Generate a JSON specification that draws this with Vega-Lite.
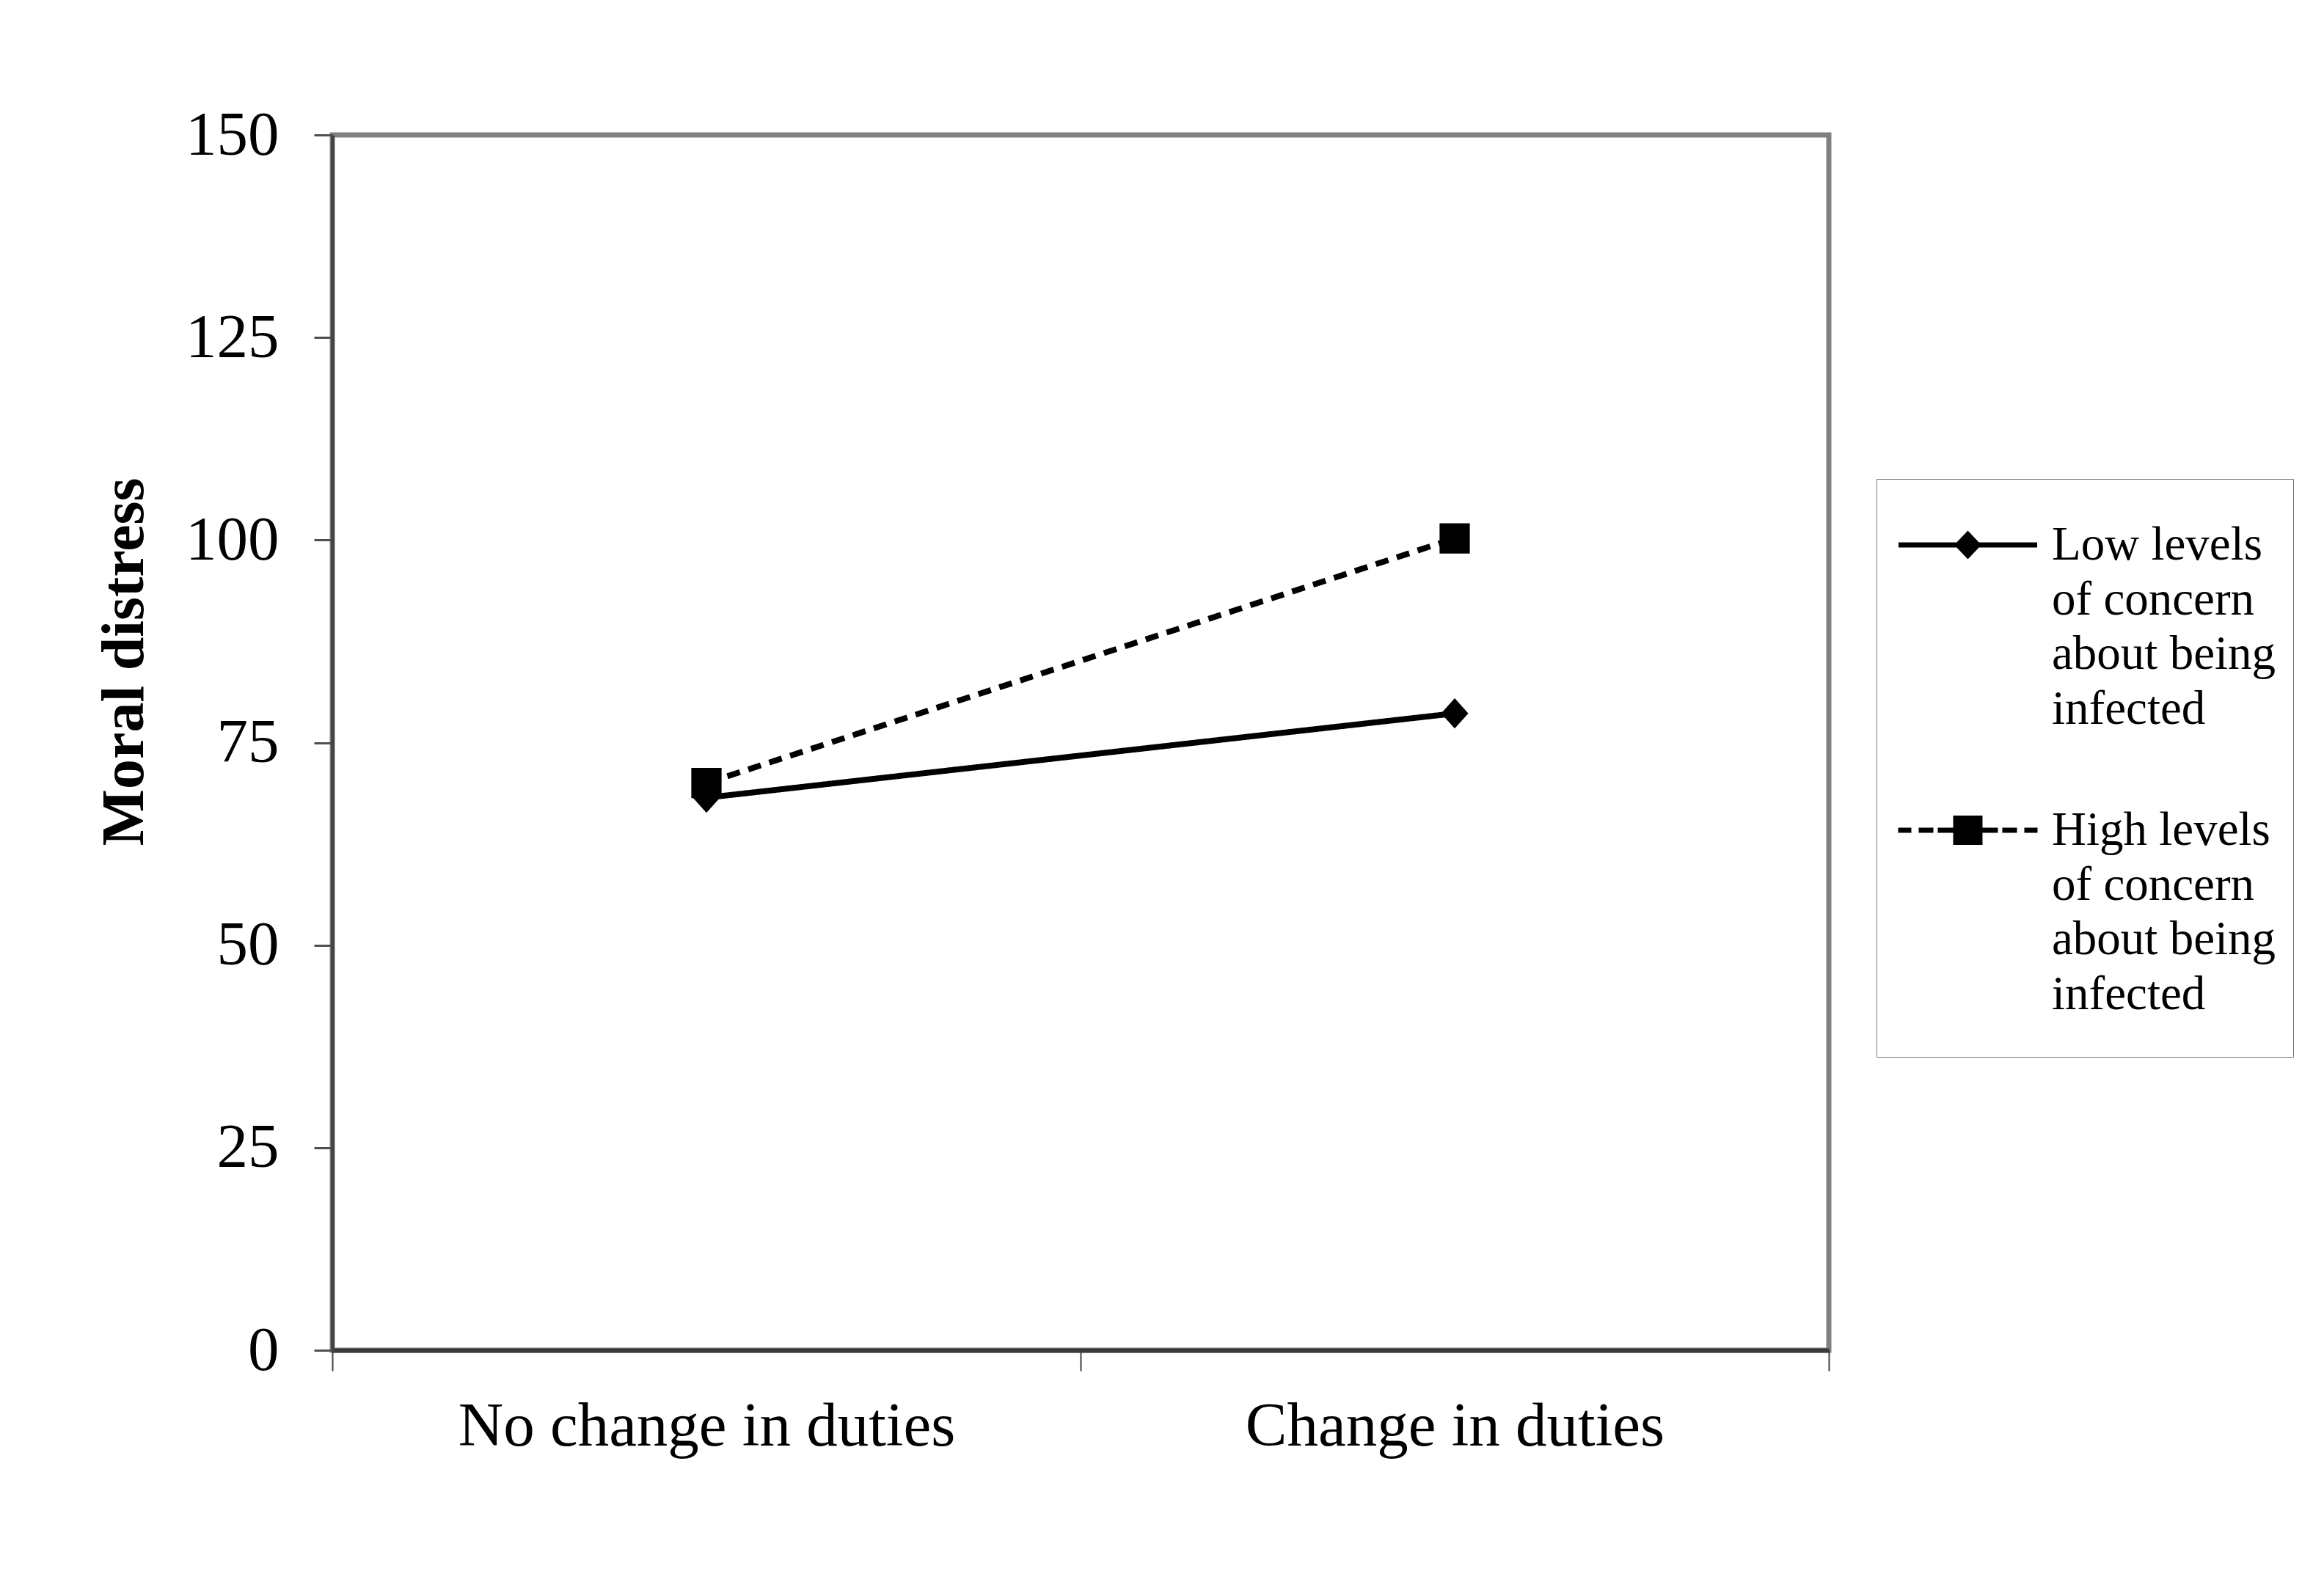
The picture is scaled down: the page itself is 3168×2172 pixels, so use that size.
{
  "$schema": "https://vega.github.io/schema/vega-lite/v6.json",
  "width": 2040,
  "height": 1657,
  "autosize": {"type": "none"},
  "padding": {"left": 453, "top": 184, "right": 675, "bottom": 331},
  "background": "white",
  "config": {
    "font": "Liberation Serif",
    "view": {"stroke": "#808080", "strokeWidth": 7},
    "style": {"guide-label": {"lineHeight": 74.5}}
  },
  "data": {
    "values": [
      {"duties": "No change in duties", "concern": "Low levels of concern about being infected", "distress": 68.2},
      {"duties": "Change in duties", "concern": "Low levels of concern about being infected", "distress": 78.6},
      {"duties": "No change in duties", "concern": "High levels of concern about being infected", "distress": 70.0},
      {"duties": "Change in duties", "concern": "High levels of concern about being infected", "distress": 100.2}
    ]
  },
  "encoding": {
    "x": {
      "field": "duties",
      "type": "nominal",
      "sort": ["No change in duties", "Change in duties"],
      "scale": {"type": "band", "paddingInner": 0, "paddingOuter": 0},
      "axis": {
        "title": null,
        "labelAngle": 0,
        "labelFontSize": 85,
        "labelColor": "black",
        "labelPadding": 34,
        "labelLimit": 2000,
        "tickBand": "extent",
        "tickSize": 28,
        "tickColor": "#404040",
        "tickWidth": 2,
        "domainColor": "#3a3a3a",
        "domainWidth": 6,
        "grid": false
      }
    },
    "y": {
      "field": "distress",
      "type": "quantitative",
      "scale": {"domain": [0, 150], "nice": false},
      "axis": {
        "title": "Moral distress",
        "values": [0, 25, 50, 75, 100, 125, 150],
        "grid": false,
        "labelFontSize": 85,
        "labelColor": "black",
        "labelPadding": 48,
        "tickSize": 25,
        "tickColor": "#505050",
        "tickWidth": 3,
        "domainColor": "#444444",
        "domainWidth": 5,
        "titleFontSize": 82,
        "titleFontWeight": "bold",
        "titleColor": "black",
        "titleX": -242,
        "titleY": 718,
        "titleAngle": 270,
        "titleAlign": "center",
        "titleBaseline": "bottom"
      }
    }
  },
  "layer": [
    {
      "mark": {"type": "line", "color": "black", "strokeWidth": 8},
      "encoding": {
        "strokeDash": {
          "field": "concern",
          "type": "nominal",
          "scale": {
            "domain": ["High levels of concern about being infected", "Low levels of concern about being infected"],
            "range": [[18, 12], [1, 0]]
          },
          "legend": null
        }
      }
    },
    {
      "transform": [{"filter": {"field": "concern", "equal": "Low levels of concern about being infected"}}],
      "mark": {"type": "point", "filled": true, "color": "black", "opacity": 1, "size": 1700, "shape": "M-0.9,0L0,-1L0.9,0L0,1Z"}
    },
    {
      "transform": [{"filter": {"field": "concern", "equal": "High levels of concern about being infected"}}],
      "mark": {"type": "point", "filled": true, "color": "black", "opacity": 1, "size": 1700, "shape": "square"}
    },
    {
      "transform": [{"filter": {"field": "distress", "lt": 0}}],
      "mark": {"type": "point", "filled": true, "color": "black", "stroke": "black", "strokeWidth": 7, "opacity": 1},
      "encoding": {
        "shape": {
          "field": "concern",
          "type": "nominal",
          "scale": {
            "domain": ["Low levels of concern about being infected", "High levels of concern about being infected"],
            "range": [
              "M-0.892,0.846H4.923V1.062H-0.892ZM1.446,0.954L2.015,0.354L2.584,0.954L2.015,1.554Z",
              "M2,9.323M-0.908,0.846H-0.354V1.062H-0.908ZM-0.047,0.846H0.569V1.062H-0.047ZM0.753,0.846H1.4V1.062H0.753ZM2.63,0.846H3.277V1.062H2.63ZM3.461,0.846H4.077V1.062H3.461ZM4.384,0.846H4.938V1.062H4.384ZM1.4,0.339H2.63V1.569H1.4Z"
            ]
          },
          "legend": {
            "title": null,
            "orient": "none",
            "legendX": 2105,
            "legendY": 469,
            "padding": 23,
            "strokeColor": "#777777",
            "fillColor": "white",
            "symbolSize": 4225,
            "symbolStrokeWidth": 7,
            "symbolStrokeColor": "black",
            "symbolFillColor": "black",
            "symbolOpacity": 1,
            "labelOffset": 144,
            "labelFontSize": 65,
            "labelBaseline": "top",
            "labelColor": "black",
            "labelLimit": 2000,
            "rowPadding": 65,
            "labelExpr": "datum.label == 'Low levels of concern about being infected' ? ['Low levels', 'of concern', 'about being', 'infected'] : ['High levels', 'of concern', 'about being', 'infected']",
            "encode": {
              "symbols": {
                "stroke": {"value": "black"},
                "strokeWidth": {"value": 7},
                "strokeJoin": {"value": "round"}
              },
              "labels": {"lineHeight": {"value": 74.5}},
              "legend": {"strokeWidth": {"value": 2}}
            }
          }
        }
      }
    }
  ]
}
